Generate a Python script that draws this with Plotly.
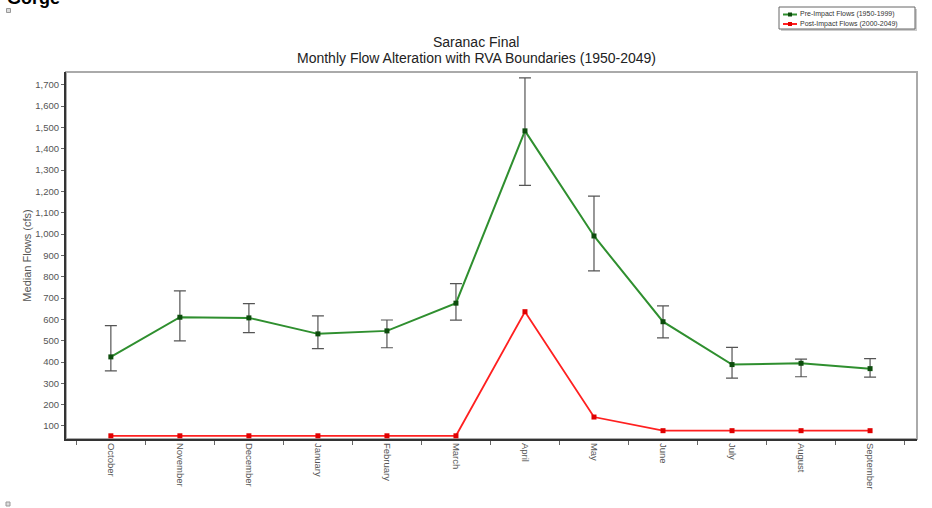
import plotly.graph_objects as go

months = ["October", "November", "December", "January", "February", "March",
          "April", "May", "June", "July", "August", "September"]
pre_median = [424, 610, 607, 532, 546, 676, 1484, 991, 589, 388, 394, 369]
pre_upper = [571, 734, 674, 616, 597, 768, 1732, 1178, 663, 469, 414, 416]
pre_lower = [358, 499, 538, 463, 467, 596, 1228, 827, 513, 324, 331, 329]
post_median = [54, 54, 54, 54, 54, 54, 636, 142, 78, 78, 78, 78]
y_ticks = list(range(100, 1800, 100))
series_names = ["Pre-Impact Flows (1950-1999)", "Post-Impact Flows (2000-2049)"]
series_line_colors = ["#2f8f2f", "#ff2020"]
series_marker_colors = ["#0d4d0d", "#e00000"]

x = list(range(len(months)))
err_plus = [u - m for u, m in zip(pre_upper, pre_median)]
err_minus = [m - l for m, l in zip(pre_median, pre_lower)]

# the page body margin is removed below, so figure pixels == window pixels
FW, FH = 932, 508
L, R, T, B = 66, 917, 72, 439
W, H = R - L, B - T


def px(xw):
    return (xw - L) / W


def py(yw):
    return (B - yw) / H


fig = go.Figure()
fig.add_trace(go.Scatter(
    x=x, y=pre_median, mode="lines+markers", name=series_names[0],
    line=dict(color=series_line_colors[0], width=2),
    marker=dict(symbol="square", size=5, color=series_marker_colors[0]),
    error_y=dict(type="data", symmetric=False, array=err_plus, arrayminus=err_minus,
                 color="#555555", thickness=1.2, width=6),
))
fig.add_trace(go.Scatter(
    x=x, y=post_median, mode="lines+markers", name=series_names[1],
    line=dict(color=series_line_colors[1], width=1.8),
    marker=dict(symbol="square", size=5, color=series_marker_colors[1]),
))

font_family = "Liberation Sans, Arial, sans-serif"

shapes = [
    dict(type="rect", xref="paper", yref="paper", x0=0, y0=0, x1=1, y1=1,
         line=dict(color="#aaaaaa", width=2), layer="below"),
    dict(type="rect", xref="paper", yref="paper",
         x0=px(6.5), x1=px(10.5), y0=py(12.5), y1=py(8.5),
         line=dict(color="#999999", width=1), fillcolor="#dddddd"),
    dict(type="rect", xref="paper", yref="paper",
         x0=px(6), x1=px(10), y0=py(506), y1=py(502),
         line=dict(color="#999999", width=1), fillcolor="#dddddd"),
    # legend box + shadow
    dict(type="rect", xref="paper", yref="paper",
         x0=px(781), x1=px(917), y0=py(31), y1=py(9),
         line=dict(width=0), fillcolor="#cccccc"),
    dict(type="rect", xref="paper", yref="paper",
         x0=px(779), x1=px(915), y0=py(29), y1=py(7),
         line=dict(color="#666666", width=1), fillcolor="white"),
]
annotations = [
    dict(text="<b>Gorge</b>", xref="paper", yref="paper",
         x=px(5), y=py(10), xanchor="left", yanchor="bottom",
         showarrow=False, font=dict(size=18, color="#000000", family=font_family)),
    dict(text="Saranac Final", xref="paper", yref="paper",
         x=px(476), y=py(42), xanchor="center", yanchor="middle", showarrow=False,
         font=dict(size=14, color="#222222", family=font_family)),
    dict(text="Monthly Flow Alteration with RVA Boundaries (1950-2049)",
         xref="paper", yref="paper",
         x=px(476), y=py(58), xanchor="center", yanchor="middle", showarrow=False,
         font=dict(size=14, color="#222222", family=font_family)),
]
for i, name in enumerate(series_names):
    yc = 14.5 + i * 9.5
    shapes.append(dict(type="line", xref="paper", yref="paper",
                       x0=px(783), x1=px(797), y0=py(yc), y1=py(yc),
                       line=dict(color=series_line_colors[i], width=2)))
    shapes.append(dict(type="rect", xref="paper", yref="paper",
                       x0=px(788), x1=px(792), y0=py(yc + 2), y1=py(yc - 2),
                       line=dict(width=0), fillcolor=series_marker_colors[i]))
    annotations.append(dict(text=name, xref="paper", yref="paper",
                            x=px(798), y=py(yc), xanchor="left", yanchor="middle",
                            showarrow=False,
                            font=dict(size=7, color="#333333", family=font_family)))

fig.update_layout(
    width=FW, height=FH,
    margin=dict(l=L, r=FW - R, t=T, b=FH - B, autoexpand=False),
    paper_bgcolor="white", plot_bgcolor="white",
    font=dict(family=font_family, color="#555555"),
    showlegend=False,
    hovermode=False,
    xaxis=dict(range=[-0.65, 11.68], tickmode="array", tickvals=x, ticktext=months,
               tickangle=90, ticks="", showgrid=False, zeroline=False, automargin=False,
               showline=True, linecolor="#333333", linewidth=2,
               tickfont=dict(size=9.5, color="#555555"),
               minor=dict(tickmode="array", tickvals=[i - 0.5 for i in range(13)],
                          ticks="outside", ticklen=4, tickcolor="#666666", tickwidth=1)),
    yaxis=dict(range=[39, 1760], tickmode="array", tickvals=y_ticks, tickformat=",d",
               ticks="outside", ticklen=3, tickcolor="#666666", showgrid=False,
               zeroline=False, showline=True, linecolor="#333333", linewidth=2,
               automargin=False,
               tickfont=dict(size=9.5, color="#555555"),
               title=dict(text="Median Flows (cfs)", font=dict(size=11, color="#555555"),
                          standoff=1)),
    shapes=shapes,
    annotations=annotations,
)

fig.write_html("out.html", config={"displayModeBar": False},
               post_script="document.body.style.margin='0';document.body.style.overflow='hidden';")
